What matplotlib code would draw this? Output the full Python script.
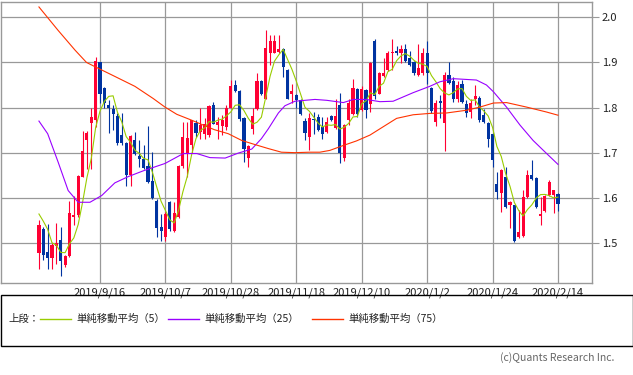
import numpy as np
import pandas as pd
import matplotlib
matplotlib.use("Agg")
import matplotlib.pyplot as plt
from matplotlib.patches import Rectangle
from matplotlib.lines import Line2D

plt.rcParams['font.family'] = ['Noto Sans CJK JP', 'DejaVu Sans']

# x axis labels (every 15 bars)
tick_pos = [14, 29, 44, 59, 74, 89, 104, 119]
tick_labels = ['2019/9/16', '2019/10/7', '2019/10/28', '2019/11/18',
               '2019/12/10', '2020/1/2', '2020/1/24', '2020/2/14']

# daily candles
opens = [1.477, 1.530, 1.479, 1.467, 1.494, 1.507, 1.450, 1.470, 1.557, 1.561,
         1.646, 1.727, 1.766, 1.772, 1.900, 1.844, 1.805, 1.796, 1.781, 1.739,
         1.722, 1.650, 1.727, 1.693, 1.687, 1.670, 1.638, 1.593, 1.536, 1.513,
         1.590, 1.527, 1.557, 1.670, 1.700, 1.716, 1.766, 1.746, 1.742, 1.739,
         1.805, 1.761, 1.759, 1.757, 1.800, 1.851, 1.837, 1.777, 1.689, 1.752,
         1.796, 1.859, 1.820, 1.920, 1.922, 1.924, 1.930, 1.884, 1.830, 1.827,
         1.816, 1.770, 1.735, 1.774, 1.780, 1.757, 1.746, 1.781, 1.754, 1.806,
         1.688, 1.772, 1.785, 1.842, 1.794, 1.840, 1.807, 1.948, 1.831, 1.870,
         1.884, 1.920, 1.925, 1.920, 1.930, 1.909, 1.901, 1.873, 1.876, 1.920,
         1.844, 1.768, 1.815, 1.766, 1.873, 1.859, 1.820, 1.852, 1.807, 1.790,
         1.820, 1.822, 1.783, 1.766, 1.741, 1.630, 1.610, 1.647, 1.585, 1.583,
         1.513, 1.516, 1.601, 1.650, 1.644, 1.560, 1.570, 1.605, 1.605, 1.609]
highs = [1.550, 1.535, 1.542, 1.499, 1.544, 1.535, 1.472, 1.593, 1.604, 1.650,
         1.748, 1.748, 1.800, 1.911, 1.902, 1.846, 1.816, 1.805, 1.787, 1.787,
         1.724, 1.740, 1.746, 1.727, 1.716, 1.759, 1.701, 1.598, 1.564, 1.568,
         1.592, 1.590, 1.672, 1.768, 1.768, 1.773, 1.772, 1.800, 1.776, 1.805,
         1.813, 1.779, 1.784, 1.805, 1.861, 1.861, 1.839, 1.779, 1.716, 1.798,
         1.876, 1.861, 1.973, 1.960, 1.960, 1.960, 1.932, 1.886, 1.853, 1.829,
         1.818, 1.777, 1.787, 1.791, 1.785, 1.780, 1.780, 1.783, 1.820, 1.833,
         1.764, 1.820, 1.864, 1.844, 1.847, 1.842, 1.900, 1.953, 1.878, 1.909,
         1.925, 1.953, 1.936, 1.938, 1.941, 1.926, 1.903, 1.941, 1.931, 1.947,
         1.846, 1.816, 1.827, 1.879, 1.900, 1.868, 1.859, 1.862, 1.816, 1.818,
         1.850, 1.825, 1.796, 1.768, 1.743, 1.657, 1.663, 1.668, 1.592, 1.585,
         1.572, 1.618, 1.661, 1.684, 1.646, 1.601, 1.605, 1.639, 1.618, 1.611]
lows = [1.442, 1.461, 1.442, 1.442, 1.453, 1.426, 1.447, 1.468, 1.539, 1.557,
        1.646, 1.664, 1.664, 1.757, 1.810, 1.800, 1.744, 1.750, 1.716, 1.716,
        1.625, 1.627, 1.694, 1.668, 1.664, 1.633, 1.598, 1.513, 1.505, 1.504,
        1.527, 1.525, 1.555, 1.665, 1.645, 1.700, 1.735, 1.731, 1.731, 1.735,
        1.763, 1.731, 1.739, 1.750, 1.798, 1.835, 1.770, 1.679, 1.668, 1.741,
        1.794, 1.828, 1.818, 1.894, 1.920, 1.922, 1.868, 1.818, 1.809, 1.800,
        1.783, 1.727, 1.705, 1.742, 1.748, 1.731, 1.744, 1.770, 1.752, 1.676,
        1.681, 1.761, 1.783, 1.779, 1.792, 1.777, 1.790, 1.820, 1.829, 1.868,
        1.882, 1.884, 1.917, 1.899, 1.901, 1.892, 1.872, 1.871, 1.872, 1.853,
        1.787, 1.759, 1.776, 1.704, 1.853, 1.813, 1.813, 1.811, 1.779, 1.776,
        1.805, 1.768, 1.766, 1.713, 1.668, 1.598, 1.568, 1.577, 1.533, 1.501,
        1.511, 1.513, 1.599, 1.640, 1.577, 1.539, 1.568, 1.603, 1.566, 1.570]
closes = [1.539, 1.473, 1.467, 1.496, 1.499, 1.459, 1.470, 1.566, 1.561, 1.648,
          1.704, 1.744, 1.779, 1.903, 1.831, 1.811, 1.800, 1.785, 1.721, 1.722,
          1.650, 1.736, 1.698, 1.686, 1.666, 1.635, 1.600, 1.533, 1.527, 1.564,
          1.531, 1.566, 1.670, 1.735, 1.733, 1.773, 1.744, 1.761, 1.764, 1.803,
          1.764, 1.768, 1.773, 1.800, 1.847, 1.837, 1.774, 1.709, 1.714, 1.781,
          1.859, 1.830, 1.931, 1.947, 1.947, 1.930, 1.890, 1.820, 1.837, 1.816,
          1.785, 1.744, 1.777, 1.772, 1.750, 1.741, 1.768, 1.772, 1.781, 1.699,
          1.762, 1.810, 1.844, 1.785, 1.842, 1.794, 1.898, 1.825, 1.876, 1.877,
          1.922, 1.924, 1.920, 1.929, 1.903, 1.894, 1.877, 1.887, 1.920, 1.877,
          1.793, 1.809, 1.810, 1.873, 1.855, 1.819, 1.850, 1.813, 1.787, 1.810,
          1.825, 1.772, 1.768, 1.731, 1.684, 1.613, 1.661, 1.579, 1.590, 1.504,
          1.524, 1.601, 1.650, 1.642, 1.579, 1.563, 1.603, 1.636, 1.618, 1.587]

# first 4 values of the 5-day average come from bars before the window
ma5_head = [1.564, 1.548, 1.530, 1.500]

# 25 and 75 day averages, read at points along the lines
ma25_idx = [0, 2, 4.4, 6.7, 9, 11.7, 14.4, 17.4, 20.5, 24, 28.9, 33.1, 36.2,
            39.2, 42.7, 45.7, 48.8, 51, 52.6, 54.9, 56.4, 58.7, 61, 63.3,
            66, 69.8, 72.1, 75, 78.2, 81.2, 85.8, 89.6, 91.9, 95, 100.3, 102.6,
            104.2, 107.2, 110.3, 113.3, 116.4, 119]
ma25_val = [1.770, 1.742, 1.679, 1.616, 1.590, 1.590, 1.605, 1.633, 1.647, 1.660,
            1.676, 1.698, 1.698, 1.689, 1.688, 1.699, 1.708, 1.731, 1.753, 1.788,
            1.804, 1.814, 1.816, 1.818, 1.816, 1.811, 1.818, 1.818, 1.813, 1.814,
            1.833, 1.847, 1.857, 1.864, 1.861, 1.850, 1.835, 1.801, 1.761, 1.727,
            1.698, 1.674]
ma75_idx = [0, 4.4, 8.3, 10.9, 13.6, 17.4, 22, 26.2, 28.9, 31.6,
            35, 37.7, 40.2, 43.4, 46.5, 49.5, 52.6, 55.6, 58.7, 62.1, 64.4,
            66.7, 69.8, 72.8, 75.9, 78.2, 82, 85.8, 89.6, 93.5, 98, 101.1,
            104.2, 107.2, 111.8, 116.4, 119]
ma75_val = [2.023, 1.971, 1.927, 1.900, 1.887, 1.869, 1.847, 1.820, 1.801, 1.785,
            1.772, 1.761, 1.751, 1.742, 1.727, 1.718, 1.709, 1.701, 1.700, 1.701,
            1.701, 1.705, 1.716, 1.726, 1.739, 1.753, 1.776, 1.784, 1.787, 1.788,
            1.794, 1.801, 1.810, 1.811, 1.801, 1.790, 1.783]

df = pd.DataFrame({'open': opens, 'high': highs, 'low': lows, 'close': closes})
ma5 = df['close'].rolling(5).mean().to_numpy()
ma5[:4] = ma5_head

UP = '#ff0033'
DOWN = '#0033a0'
GRID = '#999999'

fig = plt.figure(figsize=(6.33, 3.75), dpi=100)
ax = fig.add_axes([1 / 633, 1 - 283 / 375, 591 / 633, 281 / 375])

x = np.arange(len(df))
up = df['close'] >= df['open']
colors = np.where(up, UP, DOWN)
ax.vlines(x, df['low'], df['high'], colors=colors, lw=0.8, zorder=2)
body = (df['close'] - df['open']).abs().clip(lower=0.002)
bottom = df[['open', 'close']].min(axis=1)
ax.bar(x, body, bottom=bottom, width=0.72, color=colors, lw=0, zorder=3)

ax.plot(x, ma5, color='#99cc00', lw=0.8, zorder=4)
ax.plot(ma25_idx, ma25_val, color='#9900ff', lw=0.8, zorder=4)
ax.plot(ma75_idx, ma75_val, color='#ff3300', lw=0.8, zorder=4)

ax.set_xlim(-8.7, 126.8)
ax.set_ylim(1.411, 2.034)
ax.set_xticks(tick_pos)
ax.set_xticklabels(tick_labels, fontsize=8, color='#222222')
ax.tick_params(axis='x', length=0, pad=3)
ax.yaxis.tick_right()
ax.set_yticks([1.5, 1.6, 1.7, 1.8, 1.9, 2.0])
ax.set_yticklabels(['1.5', '1.6', '1.7', '1.8', '1.9', '2.0'], fontsize=8, color='#222222')
ax.tick_params(axis='y', length=5, color=GRID, pad=2)
ax.grid(True, color=GRID, lw=0.9, zorder=0)
ax.set_axisbelow(True)
for s in ax.spines.values():
    s.set_color(GRID)
    s.set_linewidth(1)

# legend box below the chart
fig.add_artist(Rectangle((0.5 / 633, 1 - 346 / 375), 632 / 633, 51 / 375,
                         transform=fig.transFigure, fill=False, ec='black', lw=1))
ly = 1 - 319 / 375
fig.text(8 / 633, ly, '上段：', fontsize=7.5, va='center', color='#222222')
legend_items = [('#99cc00', 40, '単純移動平均（5）'),
                ('#9900ff', 168, '単純移動平均（25）'),
                ('#ff3300', 312, '単純移動平均（75）')]
for col, px, label in legend_items:
    fig.add_artist(Line2D([px / 633, (px + 31) / 633], [ly, ly],
                          transform=fig.transFigure, color=col, lw=1))
    fig.text((px + 36) / 633, ly, label, fontsize=7.5, va='center', color='#222222')

fig.text(614 / 633, 1 - 358 / 375, '(c)Quants Research Inc.', fontsize=7.5,
         ha='right', va='center', color='#666666')

fig.savefig('out.png', dpi=100)
